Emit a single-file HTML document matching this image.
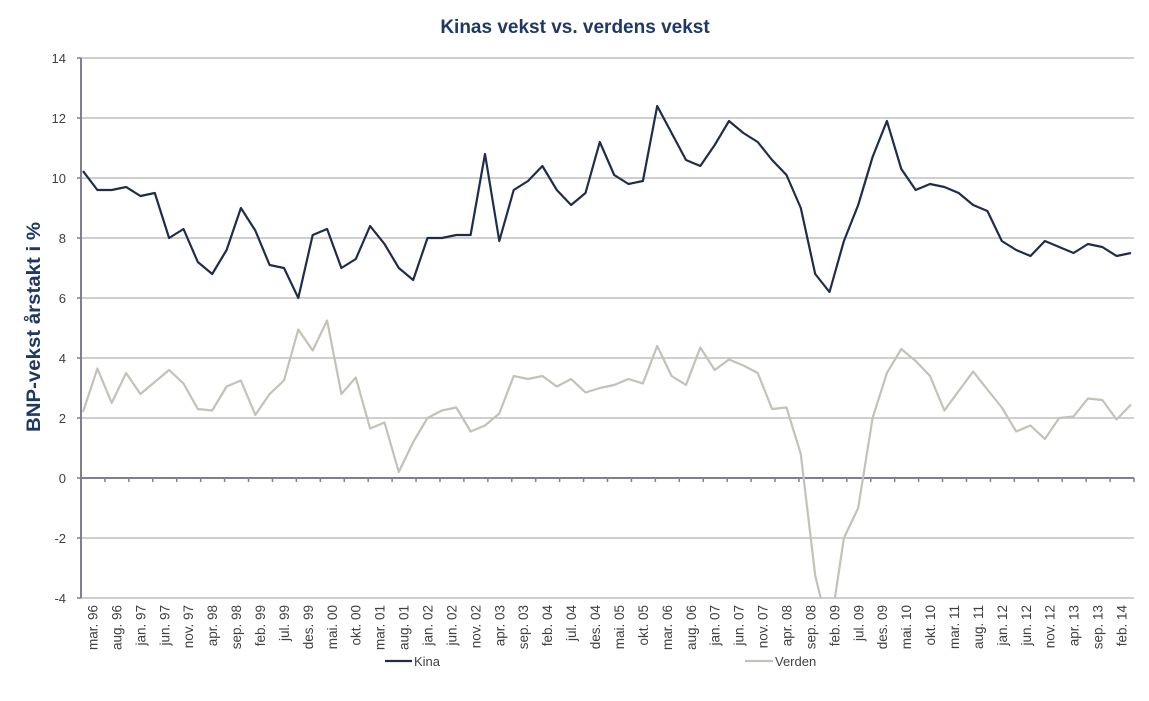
<!DOCTYPE html>
<html><head><meta charset="utf-8"><style>
html,body{margin:0;padding:0;background:#fff;}
svg{display:block;font-family:"Liberation Sans",Calibri,sans-serif;}
</style></head><body>
<svg id="c" width="1149" height="701" viewBox="0 0 1149 701" xmlns="http://www.w3.org/2000/svg">
<defs><clipPath id="cp"><rect x="81" y="50" width="1060" height="548"/></clipPath></defs>
<text x="575" y="33" text-anchor="middle" font-size="19" font-weight="bold" fill="#1f3864">Kinas vekst vs. verdens vekst</text>
<text transform="translate(40,327) rotate(-90)" text-anchor="middle" font-size="19" font-weight="bold" fill="#1f3864" textLength="210" lengthAdjust="spacingAndGlyphs">BNP-vekst årstakt i %</text>
<g id="grid" stroke="#bfbfbf" stroke-width="1.5"></g>
<g id="ylab" font-size="13" fill="#404040" text-anchor="end"></g>
<line x1="81" y1="58" x2="81" y2="598" stroke="#7f7f8f" stroke-width="2"/>
<line x1="81" y1="478" x2="1134" y2="478" stroke="#7f7f8f" stroke-width="2"/>
<g id="ticks" stroke="#7f7f8f" stroke-width="1.5"></g>
<g id="xlab" font-size="13.5" fill="#404040"></g>
<g clip-path="url(#cp)">
<polyline id="ver" fill="none" stroke="#c4c1b8" stroke-width="2.2" stroke-linejoin="round"/>
<polyline id="kin" fill="none" stroke="#1f2d4d" stroke-width="2.2" stroke-linejoin="round"/>
</g>
<line x1="385" y1="661" x2="412" y2="661" stroke="#1f2d4d" stroke-width="2.2"/>
<text x="414" y="666" font-size="13" fill="#404040">Kina</text>
<line x1="745" y1="661" x2="773" y2="661" stroke="#c4c1b8" stroke-width="2.2"/>
<text x="775" y="666" font-size="13" fill="#404040">Verden</text>
</svg>
<script>
var NS="http://www.w3.org/2000/svg";
function el(p,t,a,txt){var e=document.createElementNS(NS,t);for(var k in a)e.setAttribute(k,a[k]);if(txt!=null)e.textContent=txt;document.getElementById(p).appendChild(e);}
function Y(v){return 478-30*v;}
for(var v=-4;v<=14;v+=2){var y=Y(v);if(v!==0)el("grid","line",{x1:81,x2:1134,y1:y,y2:y});el("grid","line",{x1:77,x2:81,y1:y,y2:y,stroke:"#7f7f8f"});el("ylab","text",{x:66,y:y+5},""+v);}
var labs="mar. 96,aug. 96,jan. 97,jun. 97,nov. 97,apr. 98,sep. 98,feb. 99,jul. 99,des. 99,mai. 00,okt. 00,mar. 01,aug. 01,jan. 02,jun. 02,nov. 02,apr. 03,sep. 03,feb. 04,jul. 04,des. 04,mai. 05,okt. 05,mar. 06,aug. 06,jan. 07,jun. 07,nov. 07,apr. 08,sep. 08,feb. 09,jul. 09,des. 09,mai. 10,okt. 10,mar. 11,aug. 11,jan. 12,jun. 12,nov. 12,apr. 13,sep. 13,feb. 14".split(",");
var step=(1134-81)/44;
for(var i=0;i<44;i++){var tx=81+step*(i+1);el("ticks","line",{x1:tx,x2:tx,y1:478,y2:482});var cx=81+step*(i+0.5)+4.5;el("xlab","text",{transform:"translate("+cx+",605) rotate(-90)","text-anchor":"end"},labs[i]);}
var K=[10.23,9.6,9.6,9.7,9.4,9.5,8.0,8.3,7.2,6.8,7.6,9.0,8.25,7.1,7.0,6.0,8.1,8.3,7.0,7.3,8.4,7.8,7.0,6.6,8.0,8.0,8.1,8.1,10.8,7.9,9.6,9.9,10.4,9.6,9.1,9.5,11.2,10.1,9.8,9.9,12.4,11.5,10.6,10.4,11.1,11.9,11.5,11.2,10.6,10.1,9.0,6.8,6.2,7.9,9.1,10.7,11.9,10.3,9.6,9.8,9.7,9.5,9.1,8.9,7.9,7.6,7.4,7.9,7.7,7.5,7.8,7.7,7.4,7.5];
var V=[2.2,3.65,2.5,3.5,2.8,3.2,3.6,3.15,2.3,2.25,3.05,3.25,2.1,2.8,3.25,4.95,4.25,5.25,2.8,3.35,1.65,1.85,0.2,1.2,2.0,2.25,2.35,1.55,1.75,2.15,3.4,3.3,3.4,3.05,3.3,2.85,3.0,3.1,3.3,3.15,4.4,3.4,3.1,4.35,3.6,3.95,3.75,3.5,2.3,2.35,0.8,-3.25,-5.2,-2.0,-1.0,2.0,3.5,4.3,3.9,3.4,2.25,2.9,3.55,2.95,2.35,1.55,1.75,1.3,2.0,2.05,2.65,2.6,1.95,2.45];
function pts(a){var s=(1131-83)/(a.length-1),r=[];for(var i=0;i<a.length;i++)r.push((83+s*i).toFixed(1)+","+Y(a[i]).toFixed(1));return r.join(" ");}
document.getElementById("kin").setAttribute("points",pts(K));
document.getElementById("ver").setAttribute("points",pts(V));
</script>
</body></html>
